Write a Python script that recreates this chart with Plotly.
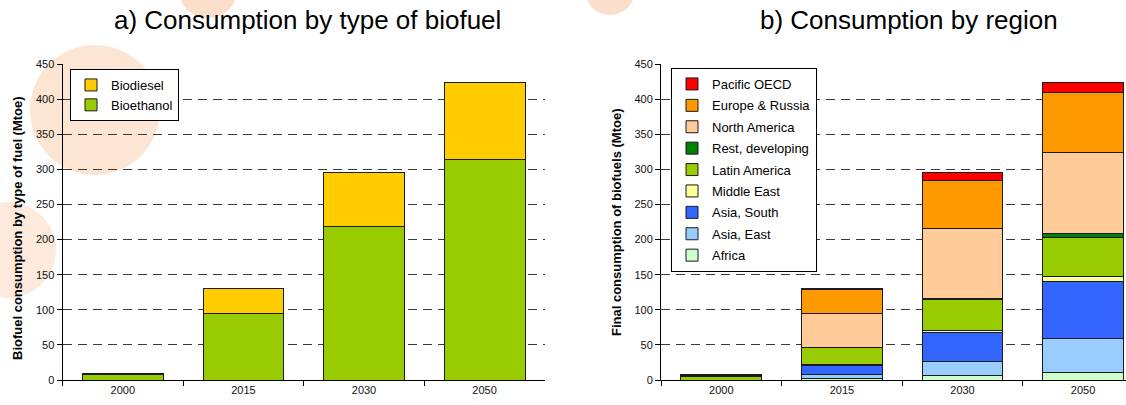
import plotly.graph_objects as go
from plotly.subplots import make_subplots

years = ["2000", "2015", "2030", "2050"]

# Panel a) consumption by type of biofuel (Mtoe)
bioethanol = [8, 95, 218, 314]
biodiesel = [1, 35, 77, 109]

# Panel b) consumption by region (Mtoe), bottom to top
regions = ["Africa", "Asia, East", "Asia, South", "Middle East", "Latin America",
           "Rest, developing", "North America", "Europe & Russia", "Pacific OECD"]
africa = [0, 2.5, 6, 11]
asia_east = [0, 5.5, 20.5, 48]
asia_south = [0, 12.5, 40.5, 81.5]
middle_east = [0, 1, 3.5, 6.5]
latin_america = [4.5, 24.5, 43.5, 56]
rest_developing = [0, 0.5, 2, 5.5]
north_america = [2.5, 47.5, 100, 115.5]
europe_russia = [1, 34.5, 67.5, 85.5]
pacific_oecd = [0.3, 1.5, 12, 14]
region_values = [africa, asia_east, asia_south, middle_east, latin_america,
                 rest_developing, north_america, europe_russia, pacific_oecd]
region_colors = ["#CCFFCC", "#99CCFF", "#3366FF", "#FFFF99", "#99CC00",
                 "#008000", "#FFCC99", "#FF9900", "#FF0000"]

W, H = 1126, 405
FONT = "Liberation Sans, Arial, sans-serif"

fig = make_subplots(rows=1, cols=2)

line = dict(color="#1a1a1a", width=1)
fig.add_trace(go.Bar(x=years, y=bioethanol, name="Bioethanol", legendgroup="be", legendrank=2,
                     marker=dict(color="#99CC00", line=line), legend="legend"), 1, 1)
fig.add_trace(go.Bar(x=years, y=biodiesel, name="Biodiesel", legendgroup="bd", legendrank=1,
                     marker=dict(color="#FFCC00", line=line), legend="legend"), 1, 1)

n = len(regions)
for i, (name, vals, col) in enumerate(zip(regions, region_values, region_colors)):
    fig.add_trace(go.Bar(x=years, y=vals, name=name, legendgroup="r%d" % i,
                         legendrank=n - i,
                         marker=dict(color=col, line=line), legend="legend2"), 1, 2)

def px_x(p):
    return p / W

def px_y(p):
    return 1 - p / H

y_dom = [px_y(380), px_y(64)]
cat_w = 120.6
left_x0, left_x1 = 62.5, 62.5 + 4 * cat_w
right_x0 = 661.0
right_x1 = W
right_range_end = -0.5 + (right_x1 - right_x0) / cat_w

axis_common = dict(
    showline=True, linecolor="#000000", linewidth=1,
    ticks="outside", ticklen=5, tickcolor="#000000",
    tickfont=dict(family=FONT, size=11, color="#111111"),
    automargin=False,
)

fig.update_xaxes(type="category", tickson="boundaries", showgrid=False, **axis_common)
fig.update_yaxes(range=[0, 450], dtick=50, showgrid=True, gridcolor="#3a3a3a",
                 griddash="9px,6px", gridwidth=1, zeroline=False, **axis_common)

fig.update_layout(
    xaxis=dict(domain=[px_x(left_x0), px_x(left_x1)], range=[-0.5, 3.5]),
    xaxis2=dict(domain=[px_x(right_x0), 1.0], range=[-0.5, right_range_end]),
    yaxis=dict(domain=y_dom),
    yaxis2=dict(domain=y_dom),
    barmode="stack",
    bargap=0.33,
    width=W, height=H,
    margin=dict(l=0, r=0, t=0, b=0, autoexpand=False),
    paper_bgcolor="#FFFFFF",
    plot_bgcolor="#FFFFFF",
    font=dict(family=FONT, color="#000000"),
    legend=dict(x=px_x(70), y=px_y(69), xanchor="left", yanchor="top",
                bgcolor="#FFFFFF", bordercolor="#000000", borderwidth=1,
                font=dict(family=FONT, size=13, color="#000000"),
                traceorder="grouped", tracegroupgap=0, itemwidth=30),
    legend2=dict(x=px_x(671), y=px_y(68), xanchor="left", yanchor="top",
                 bgcolor="#FFFFFF", bordercolor="#000000", borderwidth=1,
                 font=dict(family=FONT, size=13, color="#000000"),
                 traceorder="grouped", tracegroupgap=1.5, itemwidth=30),
    showlegend=True,
)

# Panel titles
fig.add_annotation(text="a) Consumption by type of biofuel", x=px_x(307), y=px_y(20),
                   xref="paper", yref="paper", showarrow=False,
                   xanchor="center", yanchor="middle",
                   font=dict(family=FONT, size=26, color="#000000"))
fig.add_annotation(text="b) Consumption by region", x=px_x(909), y=px_y(20),
                   xref="paper", yref="paper", showarrow=False,
                   xanchor="center", yanchor="middle",
                   font=dict(family=FONT, size=26, color="#000000"))
# Axis titles
fig.add_annotation(text="<b>Biofuel consumption by type of fuel (Mtoe)</b>", x=px_x(17),
                   y=px_y(228), xref="paper", yref="paper", showarrow=False, textangle=-90,
                   xanchor="center", yanchor="middle",
                   font=dict(family=FONT, size=13, color="#000000"))
fig.add_annotation(text="<b>Final consumption of biofuels (Mtoe)</b>", x=px_x(616),
                   y=px_y(222), xref="paper", yref="paper", showarrow=False, textangle=-90,
                   xanchor="center", yanchor="middle",
                   font=dict(family=FONT, size=13, color="#000000"))

# Faint decorative background circles (watermark)
for (cx, cy, r, a) in [(95, 110, 65, 0.25), (8, 250, 48, 0.2), (208, -12, 30, 0.3), (610, -10, 25, 0.3)]:
    fig.add_shape(type="circle", xref="paper", yref="paper",
                  x0=px_x(cx - r), x1=px_x(cx + r), y0=px_y(cy + r), y1=px_y(cy - r),
                  fillcolor="rgba(245,150,80,%s)" % a, line=dict(width=0), layer="below")

fig.write_html("out.html", config={"displayModeBar": False},
               post_script="document.body.style.margin='0';")
